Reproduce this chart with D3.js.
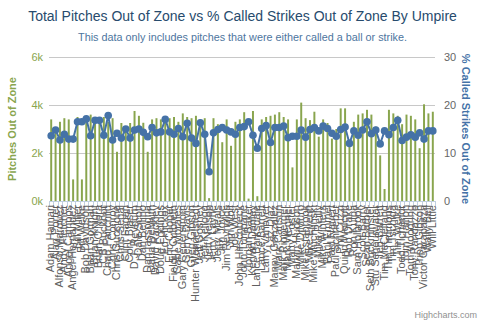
<!DOCTYPE html>
<html><head><meta charset="utf-8">
<script src="https://cdn.jsdelivr.net/npm/d3@7/dist/d3.min.js"></script>
<style>
body{margin:0;background:#fff;}
svg{display:block;font-family:"Liberation Sans",Arial,sans-serif;}
</style>
</head><body>
<svg id="chart" width="485" height="323"></svg>
<script>
const umpires = ["Adam Hamari","Alan Porter","Alfonso Marquez","Andy Fletcher","Angel Campos","Angel Hernandez","Bill Miller","Bill Welke","Bob Davidson","Brian Gorman","Brian Knight","Brian O'Nora","CB Bucknor","Chad Fairchild","Chris Conroy","Chris Guccione","Chris Segal","Clint Fagan","Cory Blaser","D.J. Reyburn","Dale Scott","Dan Bellino","Dan Iassogna","Dana DeMuth","David Rackley","Doug Eddings","Ed Hickox","Eric Cooper","Fieldin Culbreth","Gabe Morales","Gary Cederstrom","Gerry Davis","Greg Gibson","Hunter Wendelstedt","Jeff Gosney","Jeff Kellogg","Jeff Nelson","Jerry Layne","Jerry Meals","Jim Joyce","Jim Reynolds","Jim Wolf","Joe West","John Hirschbeck","John Tumpane","Jordan Baker","Kerwin Danley","Lance Barksdale","Lance Barrett","Larry Vanover","Laz Diaz","Manny Gonzalez","Mark Carlson","Mark Ripperger","Mark Wegner","Marty Foster","Marvin Hudson","Mike DiMuro","Mike Estabrook","Mike Everitt","Mike Muchlinski","Mike Reilly","Mike Winters","Paul Emmel","Paul Nauert","Paul Schrieber","Phil Cuzzi","Quinn Wolcott","Rob Drake","Ron Kulpa","Sam Holbrook","Scott Barry","Sean Barber","Seth Buckminster","Stu Scheurwater","Ted Barrett","Tim McClelland","Tim Timmons","Tim Tschida","Tim Welke","Todd Tichenor","Tom Hallion","Tom Woodring","Tony Randazzo","Tripp Gibson","Victor Carapazza","Wally Bell","Will Little"];

const pitchesOutOfZone = [3400,3000,3300,3450,3400,900,3500,900,3400,3600,3300,3450,3500,3300,3450,2050,3250,3050,3250,3750,3550,3260,2050,3400,3450,3400,3300,3450,3500,3300,3650,3500,3450,3550,3400,3450,120,3450,3200,2450,3400,2300,3300,3400,3700,100,3750,200,3400,3500,3550,3600,3700,3500,3400,1400,3400,4100,3450,3370,3720,2680,3400,3250,2600,3000,3860,3860,2500,3300,3600,3650,3800,3600,3100,1900,500,3800,3650,3550,3200,3600,3550,3400,2200,4030,3650,3720];

const calledStrikePct = [13.6,14.8,12.7,13.9,12.9,12.9,16.5,16.5,17.1,13.6,16.8,16.8,13.7,17.8,12.7,14.1,13.1,15.0,13.1,14.8,15.0,14.3,13.4,15.3,14.2,14.4,17.0,14.4,13.9,15.1,13.4,16.2,13.1,12.0,16.3,13.9,6.1,14.2,14.9,15.3,14.8,14.4,13.9,15.3,15.5,16.5,13.7,11.0,15.1,15.7,12.2,15.3,15.3,15.6,13.2,13.5,13.5,14.8,13.3,14.9,15.3,14.6,15.6,15.1,14.1,13.5,14.9,15.4,12.0,14.6,13.7,14.8,16.5,14.0,14.8,11.9,14.6,13.8,15.3,16.8,12.6,13.3,13.8,13.3,14.2,12.9,14.6,14.6];

const leftTicks = [0,2000,4000,6000];
const rightTicks = [0,10,20,30];

const titleText = "Total Pitches Out of Zone vs % Called Strikes Out of Zone By Umpire";
const subtitleText = "This data only includes pitches that were either called a ball or strike.";
const leftTitle = "Pitches Out of Zone";
const rightTitle = "% Called Strikes Out of Zone";

const green = "#89A54E", blue = "#4572A7";
const svg = d3.select("#chart");
const L = 49, R = 435, T = 57, B = 201;

const x = d3.scaleBand().domain(umpires).range([L, R]).paddingInner(0.55).paddingOuter(0.275);
const yL = d3.scaleLinear().domain([0, 6000]).range([B, T]);
const yR = d3.scaleLinear().domain([0, 30]).range([B, T]);

// title & subtitle
svg.append("text").attr("x", 242.5).attr("y", 21).attr("text-anchor", "middle")
  .attr("font-size", 14).attr("fill", "#274b6d").text(titleText);
svg.append("text").attr("x", 242.5).attr("y", 41).attr("text-anchor", "middle")
  .attr("font-size", 10.8).attr("fill", "#4d759e").text(subtitleText);

// gridlines
svg.append("g").selectAll("line").data(leftTicks).join("line")
  .attr("x1", L).attr("x2", R)
  .attr("y1", d => Math.round(yL(d)) + 0.5).attr("y2", d => Math.round(yL(d)) + 0.5)
  .attr("stroke", "#C8C8C8").attr("stroke-width", 1);

// left axis labels
svg.append("g").selectAll("text").data(leftTicks).join("text")
  .attr("x", 43).attr("y", d => yL(d) + 4).attr("text-anchor", "end")
  .attr("font-size", 11).attr("fill", green).text(d => (d / 1000) + "k");
// right axis labels
svg.append("g").selectAll("text").data(rightTicks).join("text")
  .attr("x", 444).attr("y", d => yR(d) + 4).attr("text-anchor", "start")
  .attr("font-size", 11).attr("fill", "#666").text(d => d);

// axis titles
svg.append("text").attr("transform", `translate(16,${(T + B) / 2}) rotate(-90)`)
  .attr("text-anchor", "middle").attr("font-size", 11).attr("font-weight", "bold")
  .attr("fill", green).text(leftTitle);
svg.append("text").attr("transform", `translate(462,${(T + B) / 2}) rotate(90)`)
  .attr("text-anchor", "middle").attr("font-size", 11).attr("font-weight", "bold")
  .attr("fill", blue).text(rightTitle);

// bars
svg.append("g").selectAll("rect").data(umpires).join("rect")
  .attr("x", (d) => x(d)).attr("width", x.bandwidth())
  .attr("y", (d, i) => yL(pitchesOutOfZone[i]))
  .attr("height", (d, i) => B - yL(pitchesOutOfZone[i]))
  .attr("fill", green);

// x axis line & ticks
svg.append("line").attr("x1", L).attr("x2", R).attr("y1", B + 0.5).attr("y2", B + 0.5)
  .attr("stroke", "#C0D0E0");
const step = x.step();
const tickPos = d3.range(umpires.length + 1).map(i => L + i * step);
svg.append("g").selectAll("line").data(tickPos).join("line")
  .attr("x1", d => Math.round(d) + 0.5).attr("x2", d => Math.round(d) + 0.5)
  .attr("y1", B).attr("y2", B + 5).attr("stroke", "#C0D0E0");

// x labels
svg.append("g").selectAll("text").data(umpires).join("text")
  .attr("transform", d => `translate(${x(d) + x.bandwidth() / 2 + 3},205) rotate(-90)`)
  .attr("text-anchor", "end").attr("font-size", 11).attr("fill", "#606060")
  .text(d => d);

// line series
const cx = (d) => x(d) + x.bandwidth() / 2;
const line = d3.line().x((d, i) => cx(umpires[i])).y(d => yR(d));
svg.append("path").datum(calledStrikePct).attr("d", line)
  .attr("fill", "none").attr("stroke", blue).attr("stroke-width", 2);
svg.append("g").selectAll("circle").data(calledStrikePct).join("circle")
  .attr("cx", (d, i) => cx(umpires[i])).attr("cy", d => yR(d)).attr("r", 3.8)
  .attr("fill", blue);

// credits
svg.append("text").attr("x", 477).attr("y", 318).attr("text-anchor", "end")
  .attr("font-size", 9).attr("fill", "#909090").text("Highcharts.com");
</script>
</body></html>
